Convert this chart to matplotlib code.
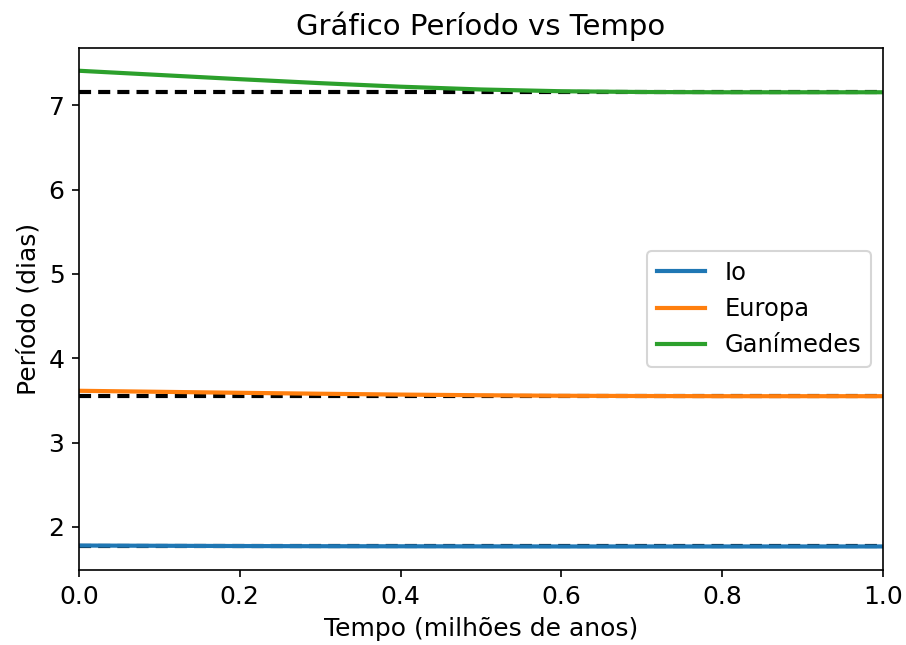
import matplotlib
matplotlib.use("Agg")
import matplotlib.pyplot as plt
import numpy as np

tempo = [0.0, 0.1, 0.2, 0.3, 0.4, 0.5, 0.6, 0.7, 0.8, 0.9, 1.0]
io = [1.780, 1.777, 1.774, 1.772, 1.771, 1.770, 1.769, 1.769, 1.769, 1.769, 1.769]
europa = [3.615, 3.603, 3.591, 3.580, 3.570, 3.562, 3.556, 3.553, 3.551, 3.551, 3.551]
ganimedes = [7.410, 7.360, 7.310, 7.263, 7.221, 7.188, 7.167, 7.158, 7.155, 7.155, 7.155]
referencia = [1.769, 3.551, 7.155]
nomes = ["Io", "Europa", "Ganímedes"]

plt.rcParams["lines.scale_dashes"] = False
fig = plt.figure(figsize=(6.04, 4.3), dpi=150)
ax = fig.add_axes([0.0872, 0.1163, 0.8874, 0.8093])

for r in referencia:
    ax.plot([tempo[0], tempo[-1]], [r, r], color="black", linestyle=(0, (5.8, 3.4)), linewidth=2)

for serie, nome, cor in zip([io, europa, ganimedes], nomes, ["#1f77b4", "#ff7f0e", "#2ca02c"]):
    ax.plot(tempo, serie, color=cor, linewidth=2, label=nome)

ax.set_xlim(0, 1)
ax.set_ylim(1.49, 7.68)
ax.set_title("Gráfico Período vs Tempo", fontsize=14)
ax.set_xlabel("Tempo (milhões de anos)", fontsize=12)
ax.set_ylabel("Período (dias)", fontsize=12)
ax.tick_params(labelsize=12)
ax.legend(loc="center right", fontsize=11.6)
fig.savefig("out.png", dpi=150)
